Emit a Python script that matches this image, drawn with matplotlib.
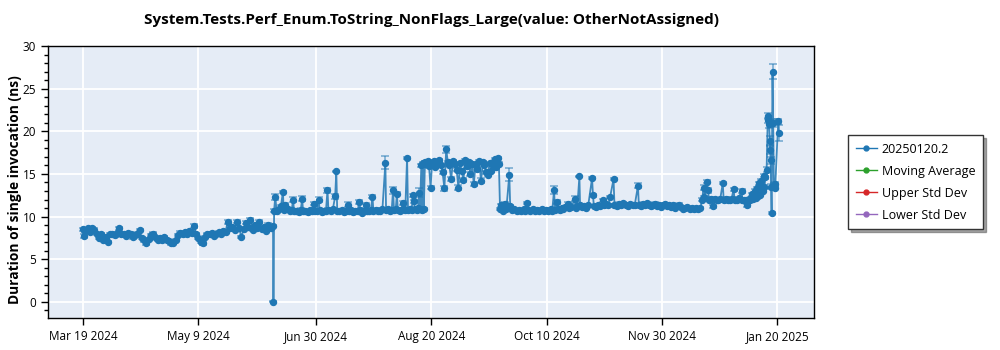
import matplotlib
matplotlib.use("Agg")
import matplotlib.pyplot as plt
import numpy as np
import pandas as pd
from matplotlib.ticker import MultipleLocator

# ---------------- data ----------------
start_date = "2024-03-19"
series_name = "20250120.2"
title_text = "System.Tests.Perf_Enum.ToString_NonFlags_Large(value: OtherNotAssigned)"
y_label = "Duration of single invocation (ns)"
legend_labels = ["20250120.2", "Moving Average", "Upper Std Dev", "Lower Std Dev"]
tick_dates = ["2024-03-19", "2024-05-09", "2024-06-30", "2024-08-20", "2024-10-10", "2024-11-30", "2025-01-20"]
tick_labels = ["Mar 19 2024", "May 9 2024", "Jun 30 2024", "Aug 20 2024", "Oct 10 2024", "Nov 30 2024", "Jan 20 2025"]

# spring segment (~8 ns)
days_q1 = [0, 0.5, 1, 2, 3, 4, 5, 6, 7, 8, 9, 10, 11, 12, 13, 14, 15, 16, 17, 18, 19, 20,
           21, 22, 23, 24, 25, 26, 27, 28, 29, 30, 31, 32, 33, 34, 35, 36, 37, 38, 39, 40,
           41, 42, 43, 44, 45, 46, 47, 48, 49, 50, 51, 52, 53, 54, 55, 56, 57, 58, 59, 60,
           61, 62, 63, 64, 65, 66, 67, 68, 69, 70, 71, 72, 73, 74, 75, 76, 77, 78, 79, 80,
           81, 82, 83, 84.0, 84.2]
ns_q1 = [8.5, 7.7, 8.3, 8.6, 8.2, 8.7, 8.4, 7.9, 7.5, 8.0,
         7.3, 7.6, 7.0, 7.9, 8.0, 7.8, 8.1, 8.6, 7.9, 8.0,
         7.7, 8.1, 7.9, 7.6, 7.8, 8.0, 8.4, 7.5, 7.2, 6.9,
         7.4, 7.8, 8.0, 7.6, 7.3, 7.5, 7.2, 7.6, 7.3, 7.1,
         6.9, 6.9, 7.3, 7.8, 8.1, 7.9, 8.2, 8.0, 8.3, 8.1,
         8.9, 8.0, 7.5, 7.0, 6.9, 7.6, 8.0, 7.9, 8.1, 7.7,
         8.0, 8.2, 8.0, 8.3, 8.2, 9.4, 8.6, 8.8, 8.4, 9.4,
         8.7, 7.6, 8.5, 9.3, 8.8, 9.6, 8.4, 9.0, 8.7, 9.4,
         8.5, 8.8, 8.3, 9.0, 8.6, 8.9, 0.0]
sd_q1 = [0.15, 0.2, 0.12, 0.1, 0.15, 0.12, 0.2, 0.1, 0.15, 0.12,
         0.2, 0.1, 0.15, 0.12, 0.1, 0.15, 0.12, 0.2, 0.1, 0.12,
         0.15, 0.1, 0.12, 0.2, 0.1, 0.15, 0.12, 0.1, 0.15, 0.2,
         0.12, 0.1, 0.15, 0.12, 0.2, 0.1, 0.12, 0.15, 0.1, 0.12,
         0.2, 0.15, 0.1, 0.12, 0.15, 0.1, 0.12, 0.2, 0.1, 0.15,
         0.25, 0.12, 0.15, 0.1, 0.2, 0.12, 0.1, 0.15, 0.12, 0.1,
         0.15, 0.12, 0.2, 0.1, 0.15, 0.25, 0.12, 0.1, 0.15, 0.2,
         0.12, 0.15, 0.1, 0.2, 0.12, 0.25, 0.1, 0.15, 0.12, 0.2,
         0.1, 0.15, 0.12, 0.2, 0.1, 0.15, 0.05]

# summer segment (~10.7 ns with spikes)
days_q2 = [84.5, 85.0, 85.6, 86.5, 87.5, 88.4, 88.7, 89.5, 90.5, 91.5,
           92.3, 92.9, 93.3, 94.3, 95.3, 96.3, 96.9, 97.3, 98.3, 99.3,
           100.3, 101.3, 102.0, 102.4, 103.3, 104.2, 104.6, 105.5, 106.5, 107.4,
           108.1, 108.5, 109.5, 110.5, 111.5, 112.0, 112.4, 113.4, 114.4, 115.4,
           116.3, 117.0, 117.4, 118.4, 119.4, 120.4, 121.4, 122.2, 122.6, 123.5,
           124.3, 125.0, 125.4, 126.4, 127.3, 128.0, 128.4, 129.4, 130.4, 131.4,
           132.4, 133.7, 134.0, 134.8, 135.8, 136.5, 137.1, 137.5, 138.3, 138.8,
           139.2, 140.0, 140.8, 141.4, 141.8, 142.5, 143.3, 143.7, 144.5, 145.3,
           145.9, 146.3, 146.7, 147.5, 148.2, 148.6, 149.0, 149.6, 149.9, 150.4,
           150.7, 151.2]
ns_q2 = [10.7, 12.35, 10.6, 10.9, 11.2, 12.9, 10.8, 11.4, 10.9, 10.7,
         10.8, 12.0, 10.6, 10.7, 10.5, 10.8, 12.1, 10.6, 10.7, 10.5,
         10.8, 10.6, 11.5, 10.7, 10.6, 12.0, 10.8, 10.5, 10.7, 10.6,
         13.1, 10.8, 10.6, 10.9, 12.4, 15.3, 10.7, 10.6, 10.8, 10.5,
         10.7, 11.4, 10.6, 10.8, 10.5, 10.6, 10.7, 11.7, 10.8, 10.4,
         10.6, 11.3, 10.7, 10.6, 10.8, 12.35, 10.6, 10.8, 10.7, 10.6,
         10.9, 16.3, 10.8, 10.9, 10.7, 10.8, 13.1, 10.8, 10.9, 12.7,
         10.8, 10.7, 10.8, 11.6, 10.9, 10.8, 16.9, 10.8, 10.9, 10.8,
         12.5, 11.8, 10.9, 10.8, 11.0, 12.8, 10.9, 16.0, 10.8, 16.3,
         10.9, 16.4]
sd_q2 = [0.15, 0.35, 0.12, 0.15, 0.2, 0.15, 0.12, 0.2, 0.15, 0.1,
         0.12, 0.3, 0.12, 0.15, 0.1, 0.15, 0.3, 0.12, 0.1, 0.15,
         0.12, 0.1, 0.2, 0.15, 0.12, 0.3, 0.12, 0.1, 0.15, 0.12,
         0.3, 0.15, 0.1, 0.15, 0.3, 0.1, 0.12, 0.15, 0.1, 0.12,
         0.15, 0.25, 0.12, 0.1, 0.15, 0.12, 0.1, 0.2, 0.12, 0.15,
         0.1, 0.25, 0.12, 0.15, 0.1, 0.15, 0.12, 0.15, 0.1, 0.12,
         0.15, 0.75, 0.12, 0.15, 0.1, 0.12, 0.4, 0.15, 0.1, 0.15,
         0.12, 0.15, 0.1, 0.25, 0.12, 0.15, 0.1, 0.12, 0.15, 0.1,
         0.2, 0.2, 0.12, 0.15, 0.1, 0.5, 0.12, 0.2, 0.15, 0.15,
         0.12, 0.15]

# late-summer segment (~16 ns)
days_q3 = [151.8, 152.4, 153.0, 153.7, 154.3, 155.0, 155.8, 156.6, 157.4, 158.2,
           159.0, 159.8, 160.6, 161.3, 162.0, 162.8, 163.6, 164.4, 165.2, 166.0,
           166.7, 167.4, 168.2, 169.0, 169.7, 170.5, 171.3, 172.0, 172.8, 173.6,
           174.4, 175.2, 176.0, 176.8, 177.5, 178.3, 179.0, 179.8, 180.5, 181.3,
           182.0, 182.7, 183.4, 183.9, 184.4]
ns_q3 = [16.2, 16.5, 15.9, 13.4, 16.1, 16.5, 15.8, 16.3, 16.6, 16.0,
         15.2, 13.3, 17.9, 16.4, 16.0, 14.4, 16.5, 16.2, 15.5, 13.4,
         16.3, 15.4, 14.3, 16.6, 15.9, 16.4, 15.0, 16.2, 13.8, 16.2,
         15.6, 16.5, 14.2, 16.4, 16.0, 15.2, 14.9, 16.3, 15.4, 16.1,
         16.7, 15.8, 16.9, 16.2, 10.9]
sd_q3 = [0.15, 0.12, 0.15, 0.2, 0.12, 0.15, 0.12, 0.1, 0.15, 0.12,
         0.2, 0.25, 0.4, 0.15, 0.12, 0.2, 0.15, 0.12, 0.2, 0.25,
         0.15, 0.2, 0.2, 0.12, 0.15, 0.12, 0.2, 0.15, 0.2, 0.12,
         0.15, 0.12, 0.3, 0.15, 0.12, 0.2, 0.2, 0.15, 0.12, 0.15,
         0.12, 0.15, 0.12, 0.15, 0.15]

# autumn / winter segment (~11-12 ns) and January surge
days_q4 = [185.0, 185.7, 186.4, 187.2, 188.5, 188.9, 189.8, 190.8, 191.8, 192.8,
           193.8, 194.8, 195.6, 196.3, 196.8, 197.8, 198.8, 199.8, 200.8, 201.8,
           202.8, 203.8, 204.8, 205.8, 206.8, 207.5, 208.3, 208.7, 209.6, 210.0,
           210.8, 211.6, 212.4, 213.2, 214.6, 215.0, 216.0, 217.4, 217.8, 218.6,
           219.5, 219.8, 220.6, 221.5, 222.4, 223.4, 225.1, 225.5, 225.9, 226.7,
           227.6, 228.6, 230.1, 230.5, 231.4, 232.3, 233.1, 234.6, 235.0, 236.0,
           237.0, 238.0, 239.0, 240.0, 241.0, 242.0, 243.0, 244.0, 245.4, 245.8,
           246.6, 247.5, 248.4, 249.3, 250.2, 251.1, 252.0, 252.9, 253.8, 254.7,
           255.6, 256.5, 257.4, 258.3, 259.2, 260.1, 261.0, 261.9, 262.8, 263.7,
           264.6, 265.5, 266.4, 267.3, 268.2, 269.1, 270.0, 271.0, 272.0, 273.0,
           273.8, 274.4, 274.8, 275.9, 276.4, 276.8, 277.5, 278.6, 279.4, 280.2,
           281.0, 281.8, 282.9, 283.3, 284.2, 285.1, 286.0, 286.8, 287.7, 288.1,
           289.0, 290.0, 291.2, 291.6, 292.5, 293.3, 293.7, 294.3, 295.0, 295.7,
           296.3, 297.0, 297.5, 298.0, 298.5, 299.0, 299.5, 300.0, 300.5, 301.0,
           301.3, 301.8, 302.3, 302.8, 303.1, 303.4, 303.7, 303.9, 304.1, 304.3,
           304.5, 304.9, 305.2, 305.5, 305.8, 306.1, 307.4, 307.6]
ns_q4 = [11.3, 10.7, 11.5, 10.9, 14.9, 11.2, 10.8, 10.9, 10.7, 10.8,
         10.6, 10.9, 10.7, 11.6, 10.8, 10.7, 10.9, 10.6, 10.8, 10.7,
         10.9, 10.6, 10.8, 10.7, 10.9, 10.7, 13.1, 10.8, 11.7, 10.9,
         10.8, 11.0, 10.9, 11.1, 11.5, 11.0, 11.1, 12.1, 11.0, 11.2,
         14.7, 11.3, 11.1, 11.2, 11.0, 11.3, 14.5, 12.5, 11.2, 11.1,
         11.4, 11.2, 11.9, 11.3, 11.5, 11.3, 12.3, 14.4, 11.4, 11.2,
         11.5, 11.3, 11.6, 11.4, 11.2, 11.5, 11.3, 11.4, 13.6, 11.3,
         11.2, 11.5, 11.3, 11.6, 11.4, 11.2, 11.3, 11.5, 11.2, 11.4,
         11.1, 11.3, 11.5, 11.2, 11.4, 11.1, 11.3, 11.0, 11.2, 11.4,
         11.1, 10.9, 11.0, 11.1, 10.9, 11.0, 10.9, 11.0, 10.9, 11.0,
         12.0, 13.4, 12.3, 14.1, 13.1, 12.0, 12.1, 11.2, 12.1, 11.9,
         12.0, 12.1, 13.9, 12.0, 12.1, 11.9, 12.0, 12.1, 13.2, 12.0,
         11.9, 12.2, 13.0, 12.0, 11.9, 12.0, 11.3, 12.1, 12.0, 12.6,
         12.1, 13.0, 12.2, 13.3, 12.4, 13.9, 12.5, 14.2, 13.0, 14.8,
         13.5, 14.6, 15.5, 21.8, 21.3, 20.8, 18.9, 17.8, 16.6, 13.5,
         10.4, 27.0, 21.0, 13.6, 13.8, 13.4, 21.2, 19.8]
sd_q4 = [0.12, 0.15, 0.2, 0.12, 0.75, 0.15, 0.12, 0.1, 0.15, 0.12,
         0.1, 0.15, 0.12, 0.15, 0.12, 0.1, 0.15, 0.12, 0.1, 0.15,
         0.12, 0.1, 0.15, 0.12, 0.1, 0.15, 0.5, 0.12, 0.2, 0.12,
         0.15, 0.1, 0.12, 0.15, 0.2, 0.12, 0.1, 0.3, 0.12, 0.15,
         0.1, 0.12, 0.1, 0.15, 0.12, 0.1, 0.1, 0.2, 0.12, 0.15,
         0.1, 0.12, 0.15, 0.12, 0.1, 0.15, 0.15, 0.1, 0.12, 0.1,
         0.15, 0.12, 0.1, 0.15, 0.12, 0.1, 0.15, 0.12, 0.3, 0.12,
         0.1, 0.15, 0.12, 0.1, 0.15, 0.12, 0.1, 0.15, 0.12, 0.1,
         0.15, 0.12, 0.1, 0.15, 0.12, 0.1, 0.15, 0.12, 0.1, 0.15,
         0.12, 0.1, 0.15, 0.12, 0.1, 0.15, 0.12, 0.1, 0.15, 0.12,
         0.15, 0.3, 0.12, 0.15, 0.3, 0.12, 0.15, 0.15, 0.12, 0.1,
         0.15, 0.12, 0.1, 0.12, 0.15, 0.1, 0.12, 0.15, 0.2, 0.12,
         0.1, 0.15, 0.25, 0.12, 0.1, 0.15, 0.15, 0.12, 0.1, 0.2,
         0.12, 0.2, 0.12, 0.2, 0.15, 0.2, 0.12, 0.2, 0.15, 0.15,
         0.2, 0.2, 0.3, 0.4, 0.3, 0.4, 0.5, 0.5, 0.4, 0.3,
         0.1, 0.9, 0.5, 0.3, 0.2, 0.2, 0.3, 0.9]

moving_average = []
upper_std = []
lower_std = []

# ---------------- assemble ----------------
for d, v, s in [(days_q1, ns_q1, sd_q1), (days_q2, ns_q2, sd_q2),
                (days_q3, ns_q3, sd_q3), (days_q4, ns_q4, sd_q4)]:
    assert len(d) == len(v) == len(s), (len(d), len(v), len(s))

day_offsets = np.array(days_q1 + days_q2 + days_q3 + days_q4, dtype=float)
durations = np.array(ns_q1 + ns_q2 + ns_q3 + ns_q4)
std_devs = np.array(sd_q1 + sd_q2 + sd_q3 + sd_q4)
dates = pd.Timestamp(start_date) + pd.to_timedelta(day_offsets, unit="D")

# ---------------- figure ----------------
plt.rcParams["font.family"] = ["Open Sans", "DejaVu Sans"]

blue = "#1f77b4"
fig = plt.figure(figsize=(10, 3.5), dpi=100)
ax = fig.add_axes([0.048, 0.0914, 0.766, 0.777])
ax.set_facecolor("#e5ecf6")
ax.grid(True, which="major", color="white", linewidth=1.3)
ax.set_axisbelow(True)

ax.errorbar(dates, durations, yerr=std_devs, fmt="none", ecolor=blue, alpha=0.55,
            elinewidth=1.2, capsize=3, capthick=1.2, zorder=2)
ax.plot(dates, durations, "-", color=blue, lw=1.3, alpha=0.85, zorder=3)
ax.plot(dates, durations, "o", color=blue, ms=4.3, mec=blue, zorder=4)

h0, = ax.plot([], [], "-o", color=blue, ms=3.5, lw=1, label=legend_labels[0])
h1, = ax.plot(moving_average, "-o", color="#2ca02c", ms=3.5, lw=1, label=legend_labels[1])
h2, = ax.plot(upper_std, "-o", color="#d62728", ms=3.5, lw=1, label=legend_labels[2])
h3, = ax.plot(lower_std, "-o", color="#9467bd", ms=3.5, lw=1, label=legend_labels[3])

ax.set_ylim(-1.9, 30)
ax.set_xlim(pd.Timestamp("2024-03-03 12:00"), pd.Timestamp("2025-02-05 06:00"))
ax.yaxis.set_major_locator(MultipleLocator(5))
ax.yaxis.set_minor_locator(MultipleLocator(1))
ax.set_xticks(pd.to_datetime(tick_dates))
ax.set_xticklabels(tick_labels)
ax.tick_params(axis="both", which="major", length=5, width=1, labelsize=8.5, color="black")
ax.tick_params(axis="y", which="minor", length=3, width=1)
ax.tick_params(axis="x", which="minor", length=0)
for sp in ax.spines.values():
    sp.set_color("black")
    sp.set_linewidth(1)

ax.set_title(title_text, fontweight="bold", fontsize=11, pad=16)
fig.text(0.015, 0.457, y_label, rotation=90, ha="center", va="center",
         fontweight="bold", fontsize=9.9)

leg = fig.legend(handles=[h0, h1, h2, h3], loc="upper left", bbox_to_anchor=(0.848, 0.614),
                 frameon=True, fancybox=False, shadow=True, fontsize=9.0,
                 handlelength=1.75, borderpad=0.6, labelspacing=0.72, handletextpad=0.35,
                 borderaxespad=0.0)
leg.get_frame().set_edgecolor("#333333")
leg.get_frame().set_linewidth(1)

fig.savefig("out.png", dpi=100)
